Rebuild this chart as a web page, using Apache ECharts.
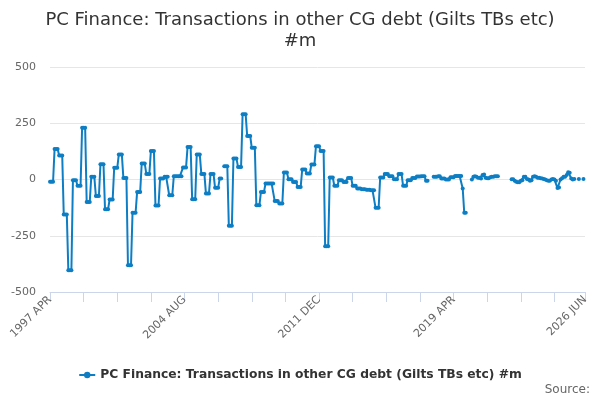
<!DOCTYPE html>
<html>
<head>
<meta charset="utf-8">
<script src="https://cdn.jsdelivr.net/npm/echarts@6/dist/echarts.min.js"></script>
<style>
html,body{margin:0;padding:0;background:#fff;}
#chart{width:600px;height:400px;}
</style>
</head>
<body>
<div id="chart"></div>
<script>
// Monthly categories: 1997 APR .. 2026 JUN
const startYear = 1997, startMonth = 3, monthCount = 351;
const monthNames = ['JAN','FEB','MAR','APR','MAY','JUN','JUL','AUG','SEP','OCT','NOV','DEC'];
const categories = [];
for (let i = 0; i < monthCount; i++) {
  const m = startMonth + i;
  categories.push((startYear + Math.floor(m / 12)) + ' ' + monthNames[m % 12]);
}

// Values (#m), one per month
const v1997 = [-10,-10,-10, 136,136,136, 107,107,107];
const v1998 = [-156,-156,-156, -403,-403,-403, -3,-3,-3, -28,-28,-28];
const v1999 = [230,230,230, -100,-100,-100, 12,12,12, -73,-73,-73];
const v2000 = [68,68,68, -132,-132,-132, -89,-89,-89, 52,52,52];
const v2001 = [111,111,111, 7,7,7, -381,-381,-381, -148,-148,-148];
const v2002 = [-55,-55,-55, 71,71,71, 25,25,25, 127,127,127];
const v2003 = [-116,-116,-116, 4,4,4, 12,12,12, -70,-70,-70];
const v2004 = [15,15,15, 15,15,15, 53,53,53, 145,145,145];
const v2005 = [-88,-88,-88, 111,111,111, 25,25,25, -62,-62,-62];
const v2006 = [24,24,24, -37,-37,-37, 4,4,null, 59,59,59];
const v2007 = [-206,-206,-206, 93,93,93, 56,56,56, 290,290,290];
const v2008 = [193,193,193, 141,141,141, -114,-114,-114, -55,-55,-55];
const v2009 = [-18,-18,-18, -18,-18,-18, -95,-95,-95, -107,-107,-107];
const v2010 = [31,31,31, 1,1,1, -11,-11,-11, -33,-33,-33];
const v2011 = [44,44,44, 27,27,27, 67,67,67, 148,148,148];
const v2012 = [127,127,127, -297,-297,-297, 9,9,9, -28,-28,-28];
const v2013 = [-3,-3,-3, -11,-11,-11, 7,7,7, -28,-28,-28];
const v2014 = [-40,-40,-40, -43,-43,-43, -45,-45,-45, -48,-48,-48];
const v2015 = [-126,-126,-126, 9,9,9, 24,24,24, 15,15,15];
const v2016 = [1,1,1, 24,24,24, -28,-28,-28, -3,-3,-3];
const v2017 = [7,7,7, 13,13,13, 15,15,15, -6,-6,null];
const v2018 = [null,null,12, 12,12,15, 15,4,4, 4,0,0];
const v2019 = [0,10,10, 10,16,16, 16,16,16, -40,-148,-148];
const v2020 = [null,null,null, 0,12,14, 12,8,8, 5,20,22];
const v2021 = [8,6,6, 10,12,12, 14,14,14, null,null,null];
const v2022 = [null,null,null, null,null,1, 1,-5,-10, -12,-12,-5];
const v2023 = [-3,12,12, 2,0,-5, -3,12,14, 12,8,8];
const v2024 = [6,5,2, 0,-3,-6, -6,0,2, 0,-5,-38];
const v2025 = [-36,0,6, 12,12,20, 32,30,5, 0,2,null];
const v2026 = [null,2,null, null,2,null];

const values = [].concat(v1997,v1998,v1999,v2000,v2001,v2002,v2003,v2004,v2005,v2006,
  v2007,v2008,v2009,v2010,v2011,v2012,v2013,v2014,v2015,v2016,v2017,v2018,v2019,
  v2020,v2021,v2022,v2023,v2024,v2025,v2026);

const yTicks = [-500, -250, 0, 250, 500];
const seriesName = 'PC Finance: Transactions in other CG debt (Gilts TBs etc) #m';
const titleText = 'PC Finance: Transactions in other CG debt (Gilts TBs etc)\n#m';

const FONT = 'DejaVu Sans';
const chart = echarts.init(document.getElementById('chart'), null, {renderer: 'canvas'});
chart.setOption({
  animation: false,
  textStyle: {fontFamily: FONT},
  title: {
    text: titleText,
    left: 'center',
    top: 5,
    textStyle: {fontFamily: FONT, fontSize: 18, fontWeight: 'normal', color: '#333333', lineHeight: 21}
  },
  legend: {
    data: [seriesName],
    top: 364,
    left: 'center',
    itemWidth: 16,
    itemHeight: 8,
    textStyle: {fontFamily: FONT, fontSize: 12.3, fontWeight: 'bold', color: '#333333'}
  },
  graphic: [{
    type: 'text',
    right: 10,
    top: 384,
    style: {text: 'Source:', fontFamily: FONT, fontSize: 12, fill: '#666666'}
  }],
  grid: {left: 50, right: 15, top: 67, bottom: 108, containLabel: false},
  xAxis: {
    type: 'category',
    data: categories,
    boundaryGap: false,
    position: 'bottom',
    axisLine: {show: true, onZero: false, lineStyle: {color: '#ccd6eb', width: 1}},
    axisTick: {
      show: true,
      inside: false,
      length: 10,
      interval: function (idx) { return idx % 22 === 0 || idx === monthCount - 1; },
      lineStyle: {color: '#ccd6eb'}
    },
    axisLabel: {
      interval: function (idx) { return idx % 88 === 0 || idx === monthCount - 1; },
      rotate: 45,
      margin: 6,
      fontFamily: FONT,
      fontSize: 11,
      color: '#666666'
    },
    splitLine: {show: false}
  },
  yAxis: {
    type: 'value',
    min: yTicks[0],
    max: yTicks[yTicks.length - 1],
    interval: 250,
    axisLine: {show: false},
    axisTick: {show: false},
    axisLabel: {fontFamily: FONT, fontSize: 11, color: '#666666', margin: 14},
    splitLine: {lineStyle: {color: '#e6e6e6', width: 1}}
  },
  series: [{
    name: seriesName,
    type: 'line',
    data: values,
    connectNulls: false,
    symbol: 'circle',
    symbolSize: 4,
    showSymbol: true,
    showAllSymbol: true,
    itemStyle: {color: '#0d7ec3'},
    lineStyle: {color: '#0d7ec3', width: 2},
    emphasis: {disabled: true}
  }]
});
</script>
</body>
</html>
